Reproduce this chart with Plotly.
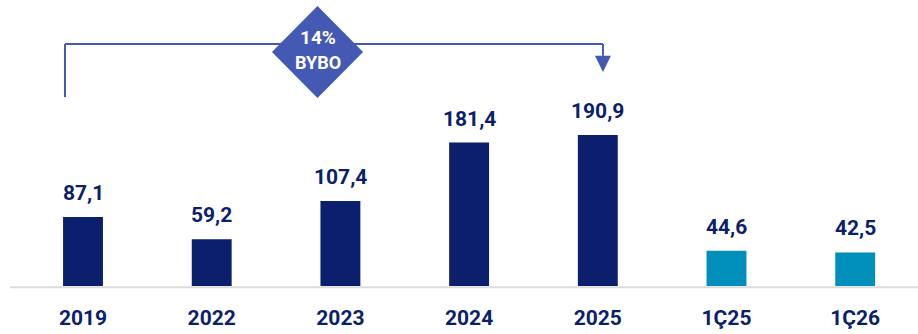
import plotly.graph_objects as go

# Values (billion) per period
categories = ["2019", "2022", "2023", "2024", "2025", "1Ç25", "1Ç26"]
values = [87.1, 59.2, 107.4, 181.4, 190.9, 44.6, 42.5]
cagr_value = "14%"
cagr_name = "BYBO"

NAVY = "#0b1f6d"
TEAL = "#008fba"
BRACKET = "#4459b3"
FONT = "Roboto"

bar_colors = [TEAL if c.startswith("1Ç") else NAVY for c in categories]
xs = list(range(len(categories)))
labels = [f"{v:.1f}".replace(".", ",") for v in values]

fig = go.Figure()
fig.add_trace(go.Bar(
    x=xs, y=values, marker=dict(color=bar_colors, line=dict(width=0)),
    width=0.31, hoverinfo="skip",
))

# Value labels above bars
for x, v, t in zip(xs, values, labels):
    fig.add_annotation(x=x, y=v, text=f"<b>{t}</b>", showarrow=False,
                       yanchor="bottom", yshift=10,
                       font=dict(family=FONT, size=21, color=NAVY))

# Baseline
fig.add_shape(type="line", xref="x", yref="paper", x0=-0.567, x1=6.49,
              y0=-0.004, y1=-0.004,
              line=dict(color="#dcdcdc", width=2), layer="below")

# CAGR bracket from 2019 to 2025
y_top = 305.9
x_left, x_right = -0.14, 4.04
fig.add_shape(type="line", x0=x_left, x1=x_left, y0=y_top, y1=238.9,
              line=dict(color=BRACKET, width=2))
fig.add_shape(type="line", x0=x_left, x1=x_right, y0=y_top, y1=y_top,
              line=dict(color=BRACKET, width=2))
fig.add_shape(type="line", x0=x_right, x1=x_right, y0=y_top, y1=291,
              line=dict(color=BRACKET, width=2))
fig.add_shape(type="path",
              path=f"M {x_right-0.062},{291} L {x_right+0.062},{291} L {x_right},{270.5} Z",
              fillcolor=BRACKET, line=dict(width=0))

# Diamond badge
cx, cy, hw, hh = 1.822, 295.8, 0.354, 58.2
fig.add_shape(type="path",
              path=f"M {cx-hw},{cy} L {cx},{cy+hh} L {cx+hw},{cy} L {cx},{cy-hh} Z",
              fillcolor=BRACKET, line=dict(width=0))
fig.add_annotation(x=cx, y=cy, text=f"<b>{cagr_value}</b>", showarrow=False,
                   yshift=15, font=dict(family=FONT, size=19, color="white"))
fig.add_annotation(x=cx, y=cy, text=f"<b>{cagr_name}</b>", showarrow=False,
                   yshift=-10, font=dict(family=FONT, size=18, color="white"))

fig.update_layout(
    width=918, height=334,
    margin=dict(l=0, r=0, t=0, b=48),
    paper_bgcolor="white", plot_bgcolor="white",
    showlegend=False,
    xaxis=dict(range=[-0.645, 6.488], tickmode="array", tickvals=xs,
               ticktext=[f"<b>{c}</b>" for c in categories],
               tickfont=dict(family=FONT, size=21, color=NAVY),
               showgrid=False, zeroline=False, showline=False,
               ticks="", ticklabelstandoff=17),
    yaxis=dict(range=[0, 361.6], visible=False, showgrid=False, zeroline=False),
)

fig.write_html("out.html")
